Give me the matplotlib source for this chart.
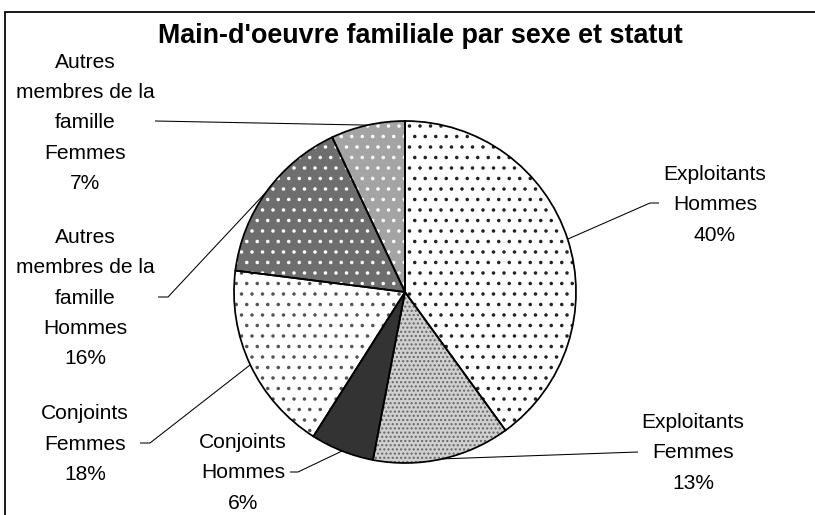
import numpy as np
import matplotlib
matplotlib.use("Agg")
import matplotlib.pyplot as plt
from matplotlib.patches import Rectangle

plt.rcParams['font.family'] = ['Liberation Sans', 'DejaVu Sans']
plt.rcParams['hatch.linewidth'] = 0.8

# ---- data ----
title = "Main-d'oeuvre familiale par sexe et statut"
categories = ["Exploitants\nHommes", "Exploitants\nFemmes", "Conjoints\nHommes",
              "Conjoints\nFemmes", "Autres\nmembres de la\nfamille\nHommes",
              "Autres\nmembres de la\nfamille\nFemmes"]
shares = [40, 13, 6, 18, 16, 7]

# ---- layout (image pixel coords, y downward) ----
DPI = 126
W, H = 815, 515
CX, CY, R = 405, 292, 171
label_pos = [(715, 205), (693, 453), (243, 473), (85, 444), (85, 298), (85, 123)]
elbows = [[(659, 203), (650, 203)], [(638, 452)], [(290, 472), (298, 472)],
          [(140, 443), (150, 443)], [(158, 297), (168, 297)], [(155, 121)]]

face = ['white', '#d0d0d0', '#333333', 'white', '#6e6e6e', '#a4a4a4']
hcol = ['#222222', '#666666', '#333333', '#555555', 'white', 'white']
hatches = ['..', '.....', None, '..', '..', '..']


def Y(y):
    return H - y


fig = plt.figure(figsize=(W / DPI, H / DPI), dpi=DPI)
ax = fig.add_axes([0, 0, 1, 1])

wedges, _ = ax.pie(shares, startangle=90, counterclock=False, center=(CX, Y(CY)),
                   radius=R, colors=face, wedgeprops=dict(linewidth=0))
for w, hc, h in zip(wedges, hcol, hatches):
    w.set_edgecolor(hc)
    w.set_linewidth(0)
    if h:
        w.set_hatch(h)

ax.pie(shares, startangle=90, counterclock=False, center=(CX, Y(CY)), radius=R,
       colors=['none'] * len(shares),
       wedgeprops=dict(edgecolor='black', linewidth=1.0))

total = float(sum(shares))
cum = np.cumsum(shares) / total
mid = cum - np.array(shares) / total / 2
ang = np.deg2rad(90 - 360 * mid)

for i, (cat, s) in enumerate(zip(categories, shares)):
    ex = CX + R * np.cos(ang[i])
    ey = Y(CY) + R * np.sin(ang[i])
    xs = [p[0] for p in elbows[i]] + [ex]
    ys = [Y(p[1]) for p in elbows[i]] + [ey]
    ax.plot(xs, ys, color='black', lw=0.6, solid_capstyle='butt')
    lx, ly = label_pos[i]
    ax.text(lx, Y(ly), f"{cat}\n{s}%", ha='center', va='center', ma='center',
            fontsize=12, linespacing=1.74, color='black')

ax.text(420, Y(43), title, ha='center', va='baseline', fontsize=15.4,
        fontweight='bold', color='black')

ax.add_patch(Rectangle((5, -20), 900, H - 12 + 20, fill=False, edgecolor='black',
                       linewidth=1.0))

ax.set_xlim(0, W)
ax.set_ylim(0, H)
ax.set_aspect('equal')
ax.axis('off')

fig.savefig('out.png', dpi=DPI, facecolor='white')
